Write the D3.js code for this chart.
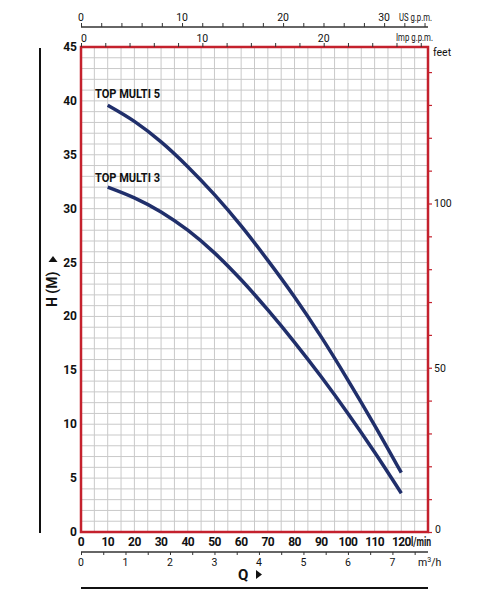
<!DOCTYPE html>
<meta charset="utf-8">
<script src="https://d3js.org/d3.v7.min.js"></script>
<style>
  body { margin: 0; background: #fff; }
  svg text { font-family: Roboto, "DejaVu Sans", sans-serif; fill: #111; }
  .bold { font-weight: bold; }
</style>
<div id="chart"></div>
<script>
// flow in l/min, head in metres
var flow = [10, 20, 30, 40, 50, 60, 70, 80, 90, 100, 110, 120];
var multi5 = [39.6, 38.1, 36.2, 33.9, 31.3, 28.4, 25.2, 21.8, 18.1, 14.1, 9.9, 5.5];
var multi3 = [32.0, 31.0, 29.7, 28.0, 25.9, 23.4, 20.6, 17.6, 14.4, 11.0, 7.4, 3.6];
var seriesNames = ["TOP MULTI 5", "TOP MULTI 3"];

var hTicks = [0, 5, 10, 15, 20, 25, 30, 35, 40, 45];
var qTicks = [0, 10, 20, 30, 40, 50, 60, 70, 80, 90, 100, 110, 120];
var feetLabels = [0, 50, 100];
var usLabels = [0, 10, 20, 30];
var impLabels = [0, 10, 20];
var m3Labels = [0, 1, 2, 3, 4, 5, 6, 7];

var W = 485, H = 616;
var pLeft = 81, pRight = 428, pTop = 47, pBottom = 532;

var svg = d3.select("#chart").append("svg")
    .attr("width", W).attr("height", H);

var x = d3.scaleLinear().domain([0, 130]).range([pLeft, pRight]);
var y = d3.scaleLinear().domain([0, 45]).range([pBottom, pTop]);

// grid
var grid = svg.append("g").attr("stroke", "#c9c9c9").attr("stroke-width", 1);
grid.selectAll(".v").data(d3.range(5, 130, 5)).enter().append("line")
    .attr("x1", d => x(d)).attr("x2", d => x(d))
    .attr("y1", pTop).attr("y2", pBottom);
grid.selectAll(".h").data(d3.range(1, 45, 1)).enter().append("line")
    .attr("x1", pLeft).attr("x2", pRight)
    .attr("y1", d => y(d)).attr("y2", d => y(d));

// frame
svg.append("rect")
    .attr("x", pLeft).attr("y", pTop)
    .attr("width", pRight - pLeft).attr("height", pBottom - pTop)
    .attr("fill", "none").attr("stroke", "#c4212d").attr("stroke-width", 2.5);

// curves
var line = d3.line()
    .x((d, i) => x(flow[i]))
    .y(d => y(d))
    .curve(d3.curveCatmullRom.alpha(0.5));

[multi5, multi3].forEach(function(s) {
  svg.append("path")
      .attr("d", line(s))
      .attr("fill", "none")
      .attr("stroke", "#202f6b")
      .attr("stroke-width", 3.5);
});

// curve names (condensed like the original)
svg.append("text").attr("class", "bold").attr("font-size", 13)
    .attr("x", 95).attr("y", 98).attr("textLength", 65).attr("lengthAdjust", "spacingAndGlyphs")
    .text(seriesNames[0]);
svg.append("text").attr("class", "bold").attr("font-size", 13)
    .attr("x", 95).attr("y", 182).attr("textLength", 65).attr("lengthAdjust", "spacingAndGlyphs")
    .text(seriesNames[1]);

// left H axis labels
svg.append("g").selectAll("text").data(hTicks).enter().append("text")
    .attr("class", "bold").attr("font-size", 12)
    .attr("x", 77).attr("y", d => y(d) + 4)
    .attr("text-anchor", "end").text(d => d);

// bottom l/min labels
svg.append("g").selectAll("text").data(qTicks).enter().append("text")
    .attr("class", "bold").attr("font-size", 12).attr("letter-spacing", -0.6)
    .attr("x", d => x(d)).attr("y", 546)
    .attr("text-anchor", "middle").text(d => d);
svg.append("text").attr("class", "bold").attr("font-size", 12)
    .attr("x", 411).attr("y", 546).attr("textLength", 20).attr("lengthAdjust", "spacingAndGlyphs")
    .text("l/min");

// right feet axis
var feet = d3.scaleLinear().domain([0, 45 / 0.3048]).range([pBottom, pTop]);
var fAxis = svg.append("g").attr("transform", "translate(" + pRight + ",0)")
    .call(d3.axisRight(feet).tickValues(d3.range(0, 150, 10)).tickSize(4).tickFormat(""));
fAxis.select(".domain").remove();
fAxis.selectAll("line").attr("stroke", "#c4212d").attr("stroke-width", 1.2);
svg.append("g").selectAll("text").data(feetLabels).enter().append("text")
    .attr("font-size", 10.5)
    .attr("x", d => d === 0 ? 435 : 434).attr("y", d => feet(d) + (d === 0 ? 1 : 4)).text(d => d);
svg.append("text").attr("font-size", 10.5).attr("x", 433).attr("y", 56).text("feet");

// top US gpm axis
var us = d3.scaleLinear().domain([0, 130 / 3.7854]).range([pLeft, pRight]);
var usAxis = svg.append("g").attr("transform", "translate(0,27)")
    .call(d3.axisTop(us).tickValues(d3.range(0, 35, 2)).tickSize(4).tickFormat(""));
usAxis.select(".domain").attr("d", "M" + pLeft + ",0H" + pRight).attr("stroke", "#333").attr("stroke-width", 1.5);
usAxis.selectAll("line").attr("stroke", "#333");
svg.append("g").selectAll("text").data(usLabels).enter().append("text")
    .attr("font-size", 10.5).attr("text-anchor", "middle")
    .attr("x", d => us(d)).attr("y", 21).text(d => d);
svg.append("text").attr("font-size", 11).attr("x", 399).attr("y", 21)
    .attr("textLength", 33).attr("lengthAdjust", "spacingAndGlyphs").text("US g.p.m.");

// imp gpm ticks on frame top
var imp = d3.scaleLinear().domain([0, 130 / 4.5461]).range([pLeft, pRight]);
var impAxis = svg.append("g").attr("transform", "translate(0," + pTop + ")")
    .call(d3.axisTop(imp).tickValues(d3.range(0, 29, 2)).tickSize(4).tickFormat(""));
impAxis.select(".domain").remove();
impAxis.selectAll("line").attr("stroke", "#333");
svg.append("g").selectAll("text").data(impLabels).enter().append("text")
    .attr("font-size", 10.5).attr("text-anchor", "middle")
    .attr("x", d => imp(d) + (d === 0 ? 3 : 0)).attr("y", 42).text(d => d);
svg.append("text").attr("font-size", 11).attr("x", 396).attr("y", 41)
    .attr("textLength", 37).attr("lengthAdjust", "spacingAndGlyphs").text("Imp g.p.m.");

// bottom m3/h axis
var m3 = d3.scaleLinear().domain([0, 130 * 0.06]).range([pLeft, pRight]);
var m3Axis = svg.append("g").attr("transform", "translate(0,552)")
    .call(d3.axisBottom(m3).tickValues(d3.range(0, 7.6, 0.5)).tickSize(3).tickFormat(""));
m3Axis.select(".domain").attr("d", "M" + pLeft + ",0H" + pRight).attr("stroke", "#333").attr("stroke-width", 1.5);
m3Axis.selectAll("line").attr("stroke", "#333");
svg.append("g").selectAll("text").data(m3Labels).enter().append("text")
    .attr("font-size", 10.5).attr("text-anchor", "middle")
    .attr("x", d => m3(d)).attr("y", 566).text(d => d);
svg.append("text").attr("font-size", 10.5).attr("x", 418).attr("y", 566)
    .html("m<tspan font-size='7' dy='-4'>3</tspan><tspan dy='4'>/h</tspan>");

// Q label
svg.append("text").attr("class", "bold").attr("font-size", 15)
    .attr("x", 238).attr("y", 580).text("Q");
svg.append("path").attr("d", "M256,570L262,574.5L256,579Z").attr("fill", "#111");
svg.append("line").attr("x1", pLeft).attr("x2", pRight).attr("y1", 588).attr("y2", 588)
    .attr("stroke", "#111").attr("stroke-width", 2);

// H (M) label
svg.append("line").attr("x1", 40).attr("x2", 40).attr("y1", 48).attr("y2", 533)
    .attr("stroke", "#111").attr("stroke-width", 2);
svg.append("text").attr("class", "bold").attr("font-size", 14)
    .attr("transform", "translate(57,307) rotate(-90)")
    .text("H  (M)");
svg.append("path").attr("d", "M48.5,262L53,256L57.5,262Z").attr("fill", "#111");
</script>
